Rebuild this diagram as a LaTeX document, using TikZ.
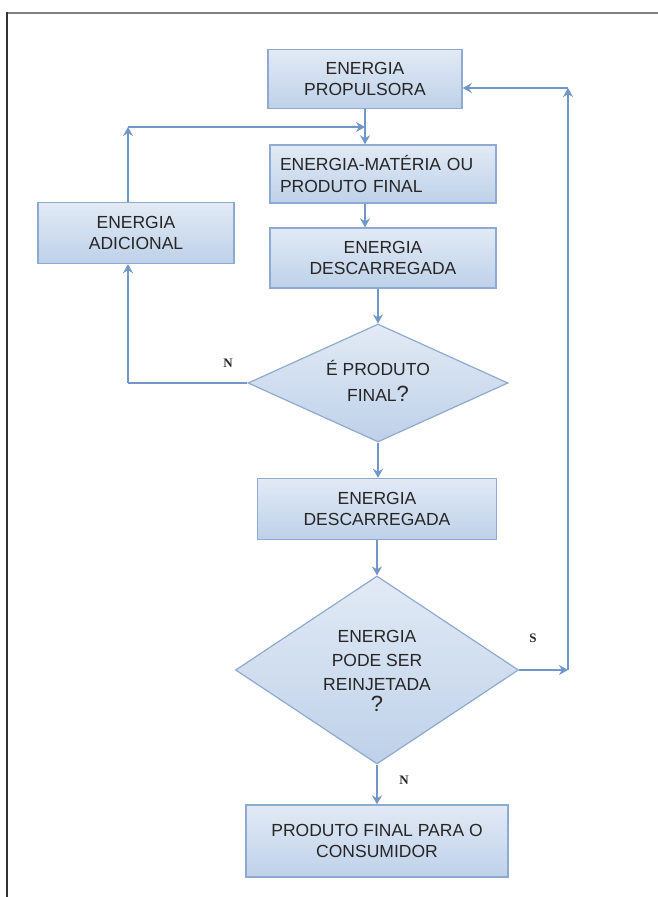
\documentclass[tikz,border=0pt]{standalone}
\usepackage{fontspec}
\setmainfont{Liberation Sans}
\newfontfamily\labelfont{Liberation Serif}
\usetikzlibrary{shapes.geometric,arrows.meta}
\definecolor{boxtop}{HTML}{E2EAF5}
\definecolor{boxbot}{HTML}{BED1E9}
\definecolor{boxline}{HTML}{8FAAD0}
\definecolor{flow}{HTML}{7196C8}
\definecolor{ink}{HTML}{262626}
\tikzset{
  boxfont/.style={font=\fontsize{17.5}{21.5}\selectfont},
  procbox/.style={rectangle, draw=boxline, line width=1.4pt, top color=boxtop, bottom color=boxbot,
    text=ink, boxfont, align=center, inner sep=0pt},
  decision/.style={diamond, draw=boxline, line width=1.2pt, top color=boxtop, bottom color=boxbot,
    inner sep=0pt, aspect=2},
  flowline/.style={draw=flow, line width=2.6pt},
  flowarrow/.style={flowline, -{Stealth[length=9pt,width=10pt,inset=3pt]}},
  branch/.style={text=ink, font=\labelfont\bfseries\fontsize{13}{15}\selectfont},
}
\begin{document}
\begin{tikzpicture}[x=1pt,y=-1pt]
\useasboundingbox (0,0) rectangle (658,897);
% page frame
\draw[draw=black!50, line width=2.2pt] (6,13) -- (658,13);
\draw[draw=black!80, line width=2.2pt] (7,12) -- (7,897);

% boxes
\node[procbox, minimum width=194pt, minimum height=59pt] (prop) at (365,79) {ENERGIA\\PROPULSORA};
\node[procbox, minimum width=226pt, minimum height=58pt, align=left, text width=206pt] (mat) at (383,174) {ENERGIA-MATÉRIA OU\\PRODUTO FINAL};
\node[procbox, minimum width=226pt, minimum height=60pt] (desc1) at (383,258) {ENERGIA\\DESCARREGADA};
\node[procbox, minimum width=196pt, minimum height=61pt] (adic) at (136,233) {ENERGIA\\ADICIONAL};
\node[decision, minimum width=260pt, minimum height=118pt] (d1) at (378,383) {};
\node[text=ink, font=\fontsize{17.5}{26}\selectfont, align=center] (d1t) at (378,381) {É PRODUTO\\FINAL{\fontsize{22}{26}\selectfont?}};
\node[procbox, minimum width=239pt, minimum height=61pt] (desc2) at (377,509) {ENERGIA\\DESCARREGADA};
\node[decision, minimum width=283pt, minimum height=188pt] (d2) at (377,670) {};
\node[text=ink, font=\fontsize{17.5}{24}\selectfont, align=center] (d2t) at (377,671) {ENERGIA\\PODE SER\\REINJETADA\\[-3pt]{\fontsize{22}{24}\selectfont ?}};
\node[procbox, minimum width=262pt, minimum height=72pt] (final) at (377,841) {PRODUTO FINAL PARA O\\CONSUMIDOR};

% junction points
\coordinate (cl) at (128,383);
\coordinate (ct) at (128,127);
\coordinate (cj) at (365,127);
\coordinate (cr) at (568,670);
\coordinate (crt) at (568,88);

% main flow
\draw[flowarrow] (prop.south) -- (prop.south |- mat.north);
\draw[flowarrow] (mat.south -| prop.south) -- (prop.south |- desc1.north);
\draw[flowarrow] (desc1.south -| d1.north) -- (d1.north);
\draw[flowarrow] (d1.south) -- (d1.south |- desc2.north);
\draw[flowarrow] (desc2.south -| d2.north) -- (d2.north);
\draw[flowarrow] (d2.south) -- (d2.south |- final.north);

% loop back through the additional energy box
\draw[flowline] (d1.west) -- (cl);
\draw[flowarrow] (cl) -- (cl |- adic.south);
\draw[flowarrow] (ct |- adic.north) -- (ct);
\draw[flowarrow] (ct) -- (cj);

% reinjection loop
\draw[flowarrow] (d2.east) -- (cr);
\draw[flowarrow] (cr) -- (crt);
\draw[flowarrow] (crt) -- (crt -| prop.east);

% branch labels
\node[branch] (n1) at (228,363) {N};
\node[branch] (s1) at (533,638) {S};
\node[branch] (n2) at (404,780) {N};
\end{tikzpicture}
\end{document}
